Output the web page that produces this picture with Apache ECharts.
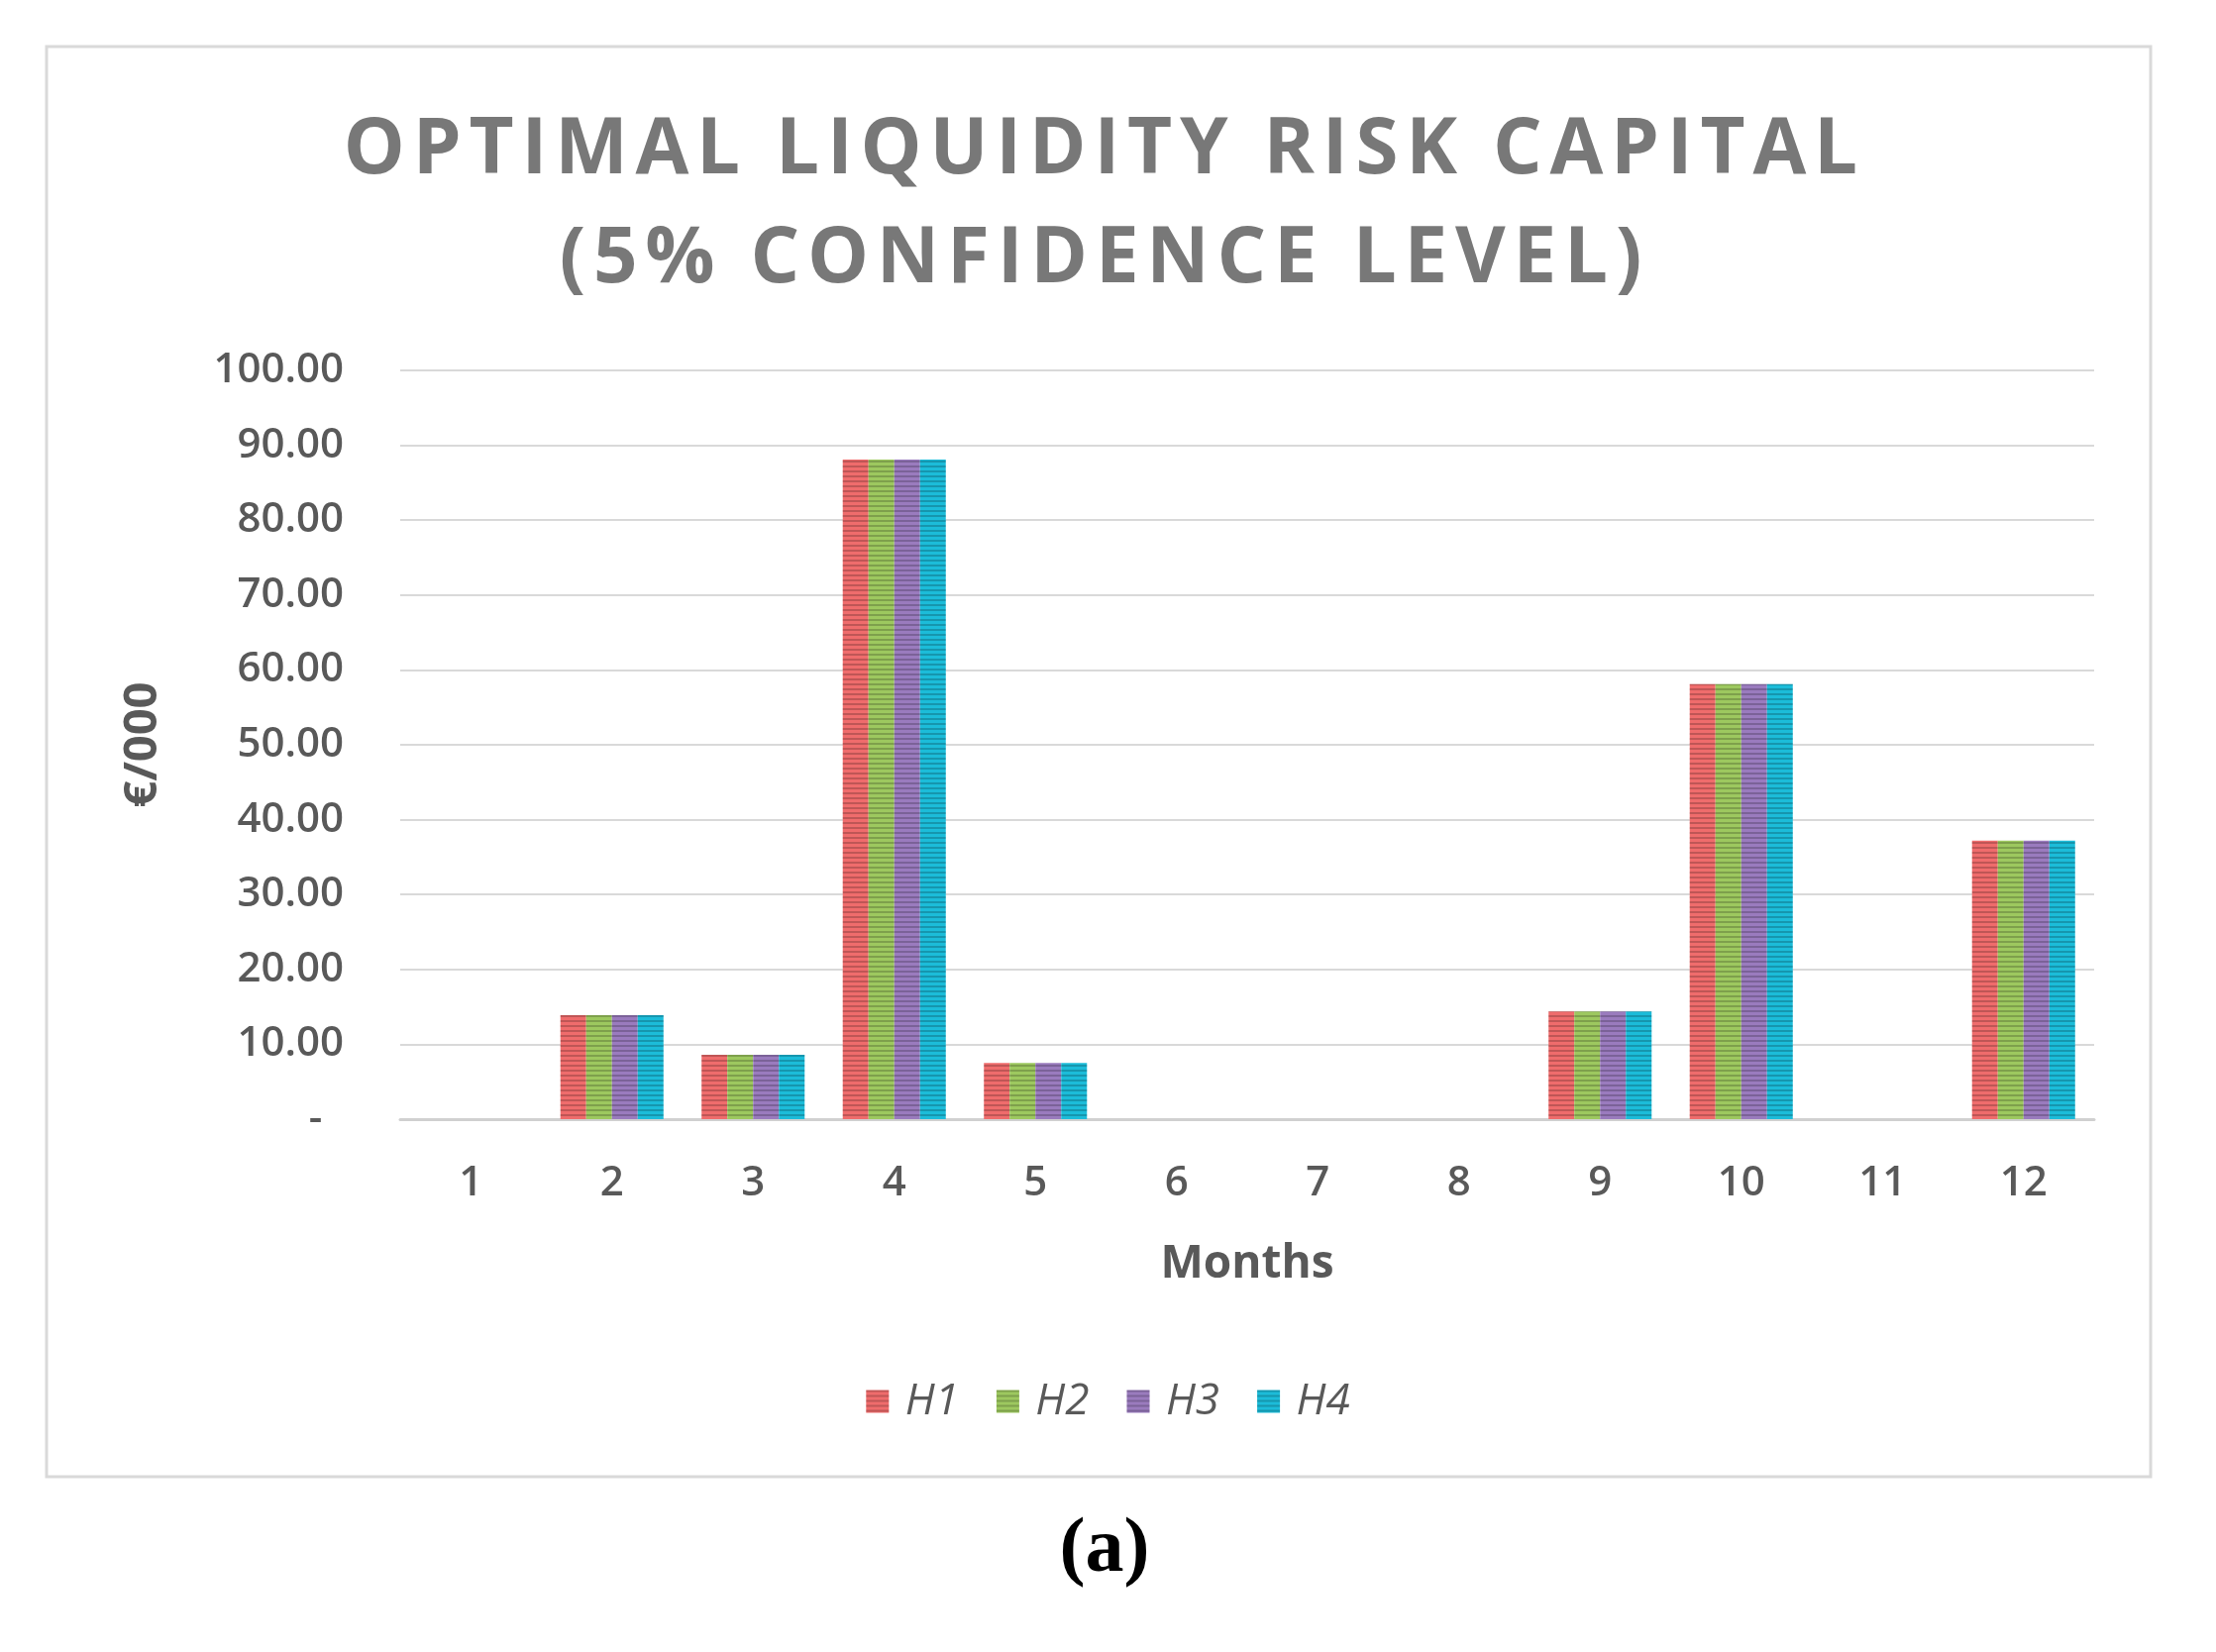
<!DOCTYPE html>
<html>
<head>
<meta charset="utf-8">
<script src="https://cdn.jsdelivr.net/npm/echarts@6/dist/echarts.min.js"></script>
<style>
  html, body { margin: 0; padding: 0; background: #fff; }
  #chart { width: 2237px; height: 1668px; }
</style>
</head>
<body>
<div id="chart"></div>
<script>
// months on the x axis
const months = ['1', '2', '3', '4', '5', '6', '7', '8', '9', '10', '11', '12']
// €/000 per scenario
const h1 = [0, 13.9, 8.6, 88.1, 7.5, 0, 0, 0, 14.4, 58.1, 0, 37.2]
const h2 = [0, 13.9, 8.6, 88.1, 7.5, 0, 0, 0, 14.4, 58.1, 0, 37.2]
const h3 = [0, 13.9, 8.6, 88.1, 7.5, 0, 0, 0, 14.4, 58.1, 0, 37.2]
const h4 = [0, 13.9, 8.6, 88.1, 7.5, 0, 0, 0, 14.4, 58.1, 0, 37.2]
const seriesNames = ['H1', 'H2', 'H3', 'H4']
const seriesColors = ['#ef6c6c', '#9dc85f', '#9a7bbe', '#1cbcd9']

const labelFont = { color: '#595959', fontFamily: 'Open Sans', fontWeight: 600, fontSize: 42 }

// the Excel title is letter-spaced; canvas text has no letterSpacing, so pad with hair spaces
const spaced = (s) => s.split('\n').map(line => line.split('').join('\u200A')).join('\n')

// horizontal stripe look of the original bars
function stripes() {
  return {
    symbol: 'rect',
    symbolSize: 1,
    dashArrayX: [1, 0],
    dashArrayY: [2, 3],
    rotation: 0,
    color: 'rgba(0,0,0,0.2)',
  }
}

const chart = echarts.init(document.getElementById('chart'))

const values = [h1, h2, h3, h4]

chart.setOption({
  backgroundColor: '#fff',
  animation: false,
  title: [{
    text: spaced('OPTIMAL LIQUIDITY RISK CAPITAL\n(5% CONFIDENCE LEVEL)'),
    left: 1106, top: 93,
    textAlign: 'center',
    textStyle: {
      color: '#787878', fontFamily: 'Open Sans', fontWeight: 'bold',
      fontSize: 78, lineHeight: 110,
    },
  }, {
    text: '(a)',
    left: 1110, top: 1522,
    textAlign: 'center',
    textStyle: { color: '#000', fontFamily: 'Liberation Serif', fontWeight: 'bold', fontSize: 78 },
  }],
  graphic: [{
    type: 'rect',
    shape: { x: 47, y: 47, width: 2124, height: 1444 },
    style: { fill: 'none', stroke: '#d9d9d9', lineWidth: 3 },
    silent: true,
  }],
  legend: {
    data: seriesNames,
    left: 'center', top: 1388,
    icon: 'rect',
    itemWidth: 23, itemHeight: 23, itemGap: 38,
    formatter: (name) => ' ' + name,
    textStyle: { color: '#595959', fontFamily: 'Open Sans', fontStyle: 'italic', fontSize: 44 },
  },
  grid: { left: 404, right: 123, top: 374, bottom: 538 },
  xAxis: {
    type: 'category',
    data: months,
    name: 'Months',
    nameLocation: 'middle',
    nameGap: 124,
    nameTextStyle: { ...labelFont, fontWeight: 'bold', fontSize: 46 },
    axisTick: { show: false },
    axisLine: { lineStyle: { color: '#d0d0d0', width: 3 } },
    axisLabel: { ...labelFont, margin: 44 },
  },
  yAxis: {
    type: 'value',
    min: 0, max: 100, interval: 10,
    name: '€/000',
    nameLocation: 'middle',
    nameRotate: 90,
    nameGap: 236,
    nameTextStyle: { ...labelFont, fontWeight: 'bold', fontSize: 47 },
    axisLabel: {
      ...labelFont,
      margin: 57,
      formatter: (v) => v === 0 ? '-  ' : v.toFixed(2),
    },
    splitLine: { lineStyle: { color: '#d9d9d9', width: 2 } },
  },
  series: seriesNames.map((name, i) => ({
    name,
    type: 'bar',
    data: values[i],
    barGap: 0,
    barCategoryGap: '27%',
    itemStyle: { color: seriesColors[i], decal: stripes() },
  })),
})
</script>
</body>
</html>
